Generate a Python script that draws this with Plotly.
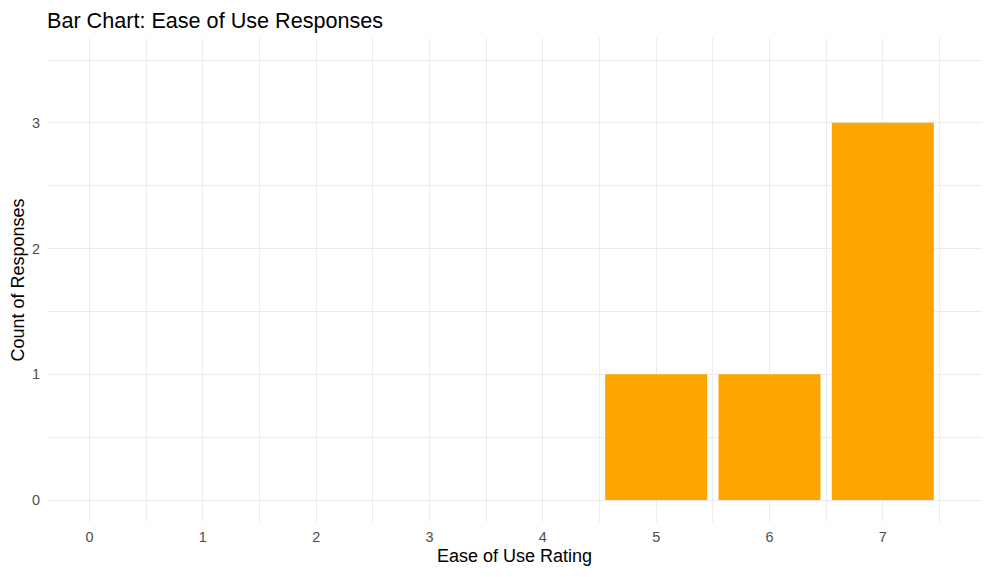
import plotly.graph_objects as go

ratings = [5, 6, 7]
counts = [1, 1, 3]
x_ticks = [0, 1, 2, 3, 4, 5, 6, 7]
y_ticks = [0, 1, 2, 3]

fig = go.Figure()
fig.add_trace(go.Bar(x=ratings, y=counts, width=0.9,
                     marker=dict(color="#FFA500", line=dict(width=0))))

grid = "#ebebeb"
fam = "Liberation Sans, Arial, sans-serif"
tickfont = dict(family=fam, size=14.4, color="#4d4d4d")
titlefont = dict(family=fam, size=18, color="#000000")

fig.update_layout(
    width=992, height=577,
    margin=dict(l=47, r=10, t=38, b=55),
    paper_bgcolor="white", plot_bgcolor="white",
    showlegend=False,
    title=dict(text="Bar Chart: Ease of Use Responses", x=47/992, xanchor="left",
               y=1 - 20/577, yanchor="middle",
               font=dict(family=fam, size=21.6, color="#000000")),
    xaxis=dict(range=[-0.375, 7.875], tickvals=x_ticks, ticktext=[str(v) for v in x_ticks],
               showgrid=True, gridcolor=grid, gridwidth=1, zeroline=False, showline=False,
               ticks="", tickfont=tickfont, ticklabelstandoff=5,
               minor=dict(tick0=0.5, dtick=1, showgrid=True, gridcolor=grid, gridwidth=1),
               title=dict(text="Ease of Use Rating", font=titlefont, standoff=4)),
    yaxis=dict(range=[-0.175, 3.675], tickvals=y_ticks, ticktext=[str(v) for v in y_ticks],
               showgrid=True, gridcolor=grid, gridwidth=1, zeroline=False, showline=False,
               ticks="", tickfont=tickfont, ticklabelstandoff=6,
               minor=dict(tick0=0.5, dtick=1, showgrid=True, gridcolor=grid, gridwidth=1),
               title=dict(text="Count of Responses", font=titlefont, standoff=2)),
)

fig.write_html("out.html")
